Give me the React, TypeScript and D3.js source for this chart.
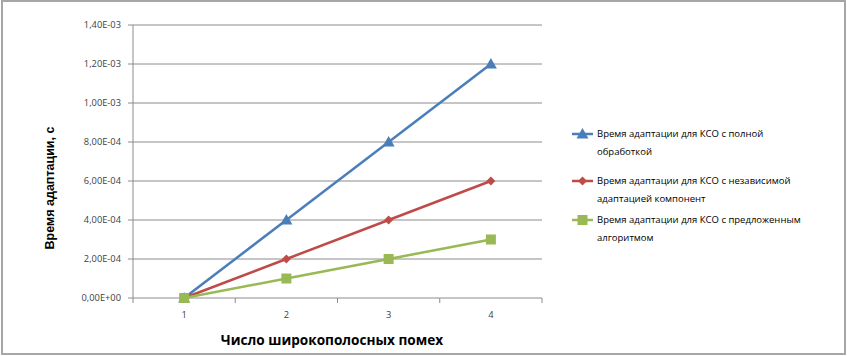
import React from "react";
import * as d3 from "d3";

const categories = ["1", "2", "3", "4"];
const seriesNames = [
  ["Время адаптации для КСО с полной", "обработкой"],
  ["Время адаптации для КСО с независимой", "адаптацией компонент"],
  ["Время адаптации для КСО с предложенным", "алгоритмом"],
];
const fullProcessing = [0, 4e-4, 8e-4, 1.2e-3];
const independentAdaptation = [0, 2e-4, 4e-4, 6e-4];
const proposedAlgorithm = [0, 1e-4, 2e-4, 3e-4];
const yTicks = [0, 2e-4, 4e-4, 6e-4, 8e-4, 1e-3, 1.2e-3, 1.4e-3];
const yTickLabels = ["0,00E+00", "2,00E-04", "4,00E-04", "6,00E-04", "8,00E-04", "1,00E-03", "1,20E-03", "1,40E-03"];

const colors = ["#4a7ebb", "#be4b48", "#98b954"];
const markers = ["triangle", "diamond", "square"];
const FONT = "'Open Sans', 'Liberation Sans', sans-serif";

function Marker({ type, x, y, color }: { type: string; x: number; y: number; color: string }) {
  if (type === "triangle") {
    const s = 6;
    return <path d={`M${x},${y - s} L${x + s},${y + s * 0.75} L${x - s},${y + s * 0.75} Z`} fill={color} />;
  }
  if (type === "diamond") {
    const s = 4.5;
    return <path d={`M${x},${y - s} L${x + s},${y} L${x},${y + s} L${x - s},${y} Z`} fill={color} />;
  }
  const s = 5;
  return <rect x={x - s} y={y - s} width={2 * s} height={2 * s} fill={color} />;
}

export default function App() {
  const W = 847, H = 356;
  const left = 133, right = 542, top = 25, bottom = 298;
  const x = d3.scaleBand().domain(categories).range([left, right]);
  const y = d3.scaleLinear().domain([0, 1.4e-3]).range([bottom, top]);
  const data = [fullProcessing, independentAdaptation, proposedAlgorithm];
  const line = d3
    .line<number>()
    .x((_, i) => x(categories[i])! + x.bandwidth() / 2)
    .y((d) => y(d));
  const boundaries = d3.range(categories.length + 1).map((i) => left + i * x.bandwidth());

  return (
    <svg width={W} height={H} style={{ position: "absolute", left: 0, top: 0 }} fontFamily={FONT}>
      <rect x={0} y={0} width={W} height={H} fill="#fff" />
      <rect x={2} y={1} width={843} height={353} fill="#fff" stroke="#a6a6a6" strokeWidth={2} />
      {yTicks.map((t, i) => (
        <g key={i}>
          {i > 0 && <line x1={left} x2={right} y1={y(t)} y2={y(t)} stroke="#8c8c8c" strokeWidth={1} />}
          <line x1={left - 5} x2={left} y1={y(t)} y2={y(t)} stroke="#8c8c8c" />
          <text x={121} y={y(t)} dy="0.35em" textAnchor="end" fontSize={9.3} fill="#404040">
            {yTickLabels[i]}
          </text>
        </g>
      ))}
      <line x1={left} x2={left} y1={top} y2={bottom} stroke="#8c8c8c" />
      <line x1={left} x2={right} y1={bottom} y2={bottom} stroke="#8c8c8c" />
      {boundaries.map((b, i) => (
        <line key={i} x1={b} x2={b} y1={bottom} y2={bottom + 5} stroke="#8c8c8c" />
      ))}
      {categories.map((c) => (
        <text key={c} x={x(c)! + x.bandwidth() / 2} y={318} textAnchor="middle" fontSize={9.3} fill="#404040">
          {c}
        </text>
      ))}
      <text x={332} y={345} textAnchor="middle" fontSize={13.6} fontWeight="bold" fill="#000">
        Число широкополосных помех
      </text>
      <text
        transform={`translate(54,188) rotate(-90)`}
        textAnchor="middle"
        fontSize={12.5}
        fontWeight="bold"
        fontFamily="'Liberation Sans', Arial, sans-serif"
        fill="#000"
      >
        Время адаптации, с
      </text>
      {data.map((s, si) => (
        <g key={si}>
          <path d={line(s)!} fill="none" stroke={colors[si]} strokeWidth={2.5} />
          {s.map((v, i) => (
            <Marker key={i} type={markers[si]} x={x(categories[i])! + x.bandwidth() / 2} y={y(v)} color={colors[si]} />
          ))}
        </g>
      ))}
      {seriesNames.map((name, si) => {
        const ly = [134, 181, 220][si];
        return (
          <g key={si}>
            <line x1={572} x2={593} y1={ly} y2={ly} stroke={colors[si]} strokeWidth={2.5} />
            <Marker type={markers[si]} x={582.5} y={ly} color={colors[si]} />
            <text x={597} y={ly} dy="0.35em" fontSize={9.5} fill="#000">
              {name[0]}
            </text>
            <text x={597} y={ly + 18} dy="0.35em" fontSize={9.5} fill="#000">
              {name[1]}
            </text>
          </g>
        );
      })}
    </svg>
  );
}
